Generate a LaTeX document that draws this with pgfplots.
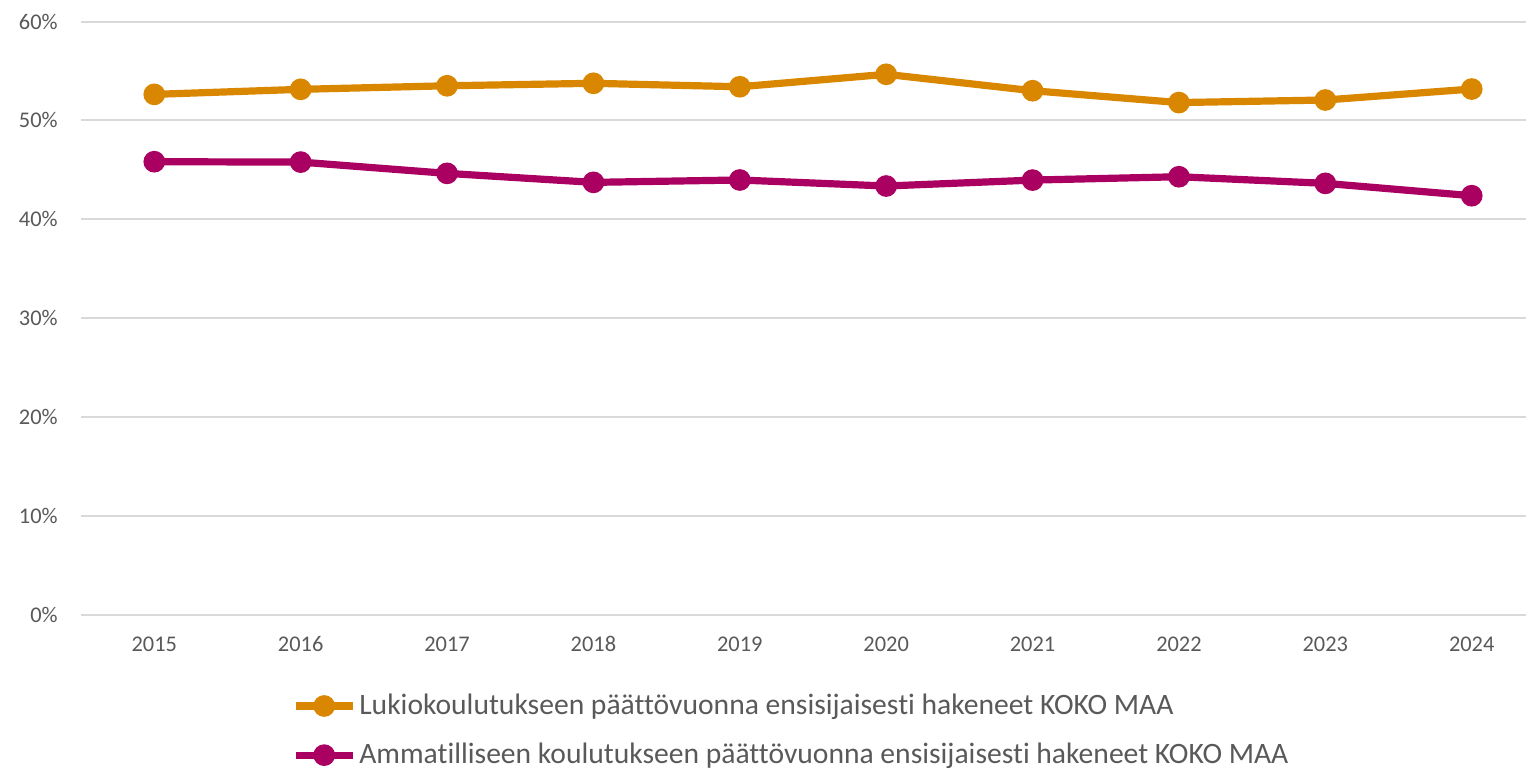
\documentclass[border=0pt]{standalone}
\usepackage{fontspec}
\setmainfont{Carlito}[Ligatures={NoCommon}]
\usepackage{pgfplots}
\pgfplotsset{compat=1.18}
\definecolor{orangeS}{HTML}{D98700}
\definecolor{magS}{HTML}{AA0061}
\definecolor{gridg}{HTML}{D9D9D9}
\definecolor{txt}{HTML}{595959}
\begin{document}
\begin{tikzpicture}
\begin{axis}[name=ax, scale only axis, width=731.9pt, height=296.6pt,
  xmin=2014.5, xmax=2024.5, ymin=0, ymax=60,
  xtick={2015,2016,2017,2018,2019,2020,2021,2022,2023,2024},
  xticklabels={2015,2016,2017,2018,2019,2020,2021,2022,2023,2024},
  ytick={0,10,20,30,40,50,60},
  yticklabels={0\%,10\%,20\%,30\%,40\%,50\%,60\%},
  ymajorgrids, grid style={gridg, line width=1pt},
  axis line style={draw=none},
  major tick length=0pt, tick style={draw=none},
  ticklabel style={font=\fontsize{11.2}{13}\selectfont, text=txt},
  yticklabel style={xshift=-8.2pt},
  xticklabel style={yshift=-8pt, text height=7.1pt, text depth=0pt},
  /pgf/number format/assume math mode=true,
  clip=false,
  legend cell align=left,
  legend image code/.code={\draw[mark repeat=2,mark phase=2] plot coordinates {(0pt,0pt)(14.25pt,0pt)(28.5pt,0pt)};},
  legend style={at={(axis description cs:0,0)}, anchor=north west, draw=none, fill=none,
    font=\fontsize{14.8}{18}\selectfont, text=txt, row sep=12.8pt, inner sep=0pt,
    nodes={inner sep=0pt},
    /tikz/every odd column/.append style={column sep=1.5pt},
    xshift=105.3pt, yshift=-39.55pt},
]
\addplot[color=orangeS, line width=3.6pt, mark=*, mark size=3.6pt, mark options={solid}] coordinates {
(2015,52.63) (2016,53.14) (2017,53.5) (2018,53.75) (2019,53.4) (2020,54.66) (2021,53.0) (2022,51.8) (2023,52.06) (2024,53.17)};
\addlegendentry{Lukiokoulutukseen päättövuonna ensisijaisesti hakeneet KOKO MAA}
\addplot[color=magS, line width=3.6pt, mark=*, mark size=3.6pt, mark options={solid}] coordinates {
(2015,45.82) (2016,45.78) (2017,44.64) (2018,43.73) (2019,43.97) (2020,43.36) (2021,43.96) (2022,44.3) (2023,43.63) (2024,42.38)};
\addlegendentry{Ammatilliseen koulutukseen päättövuonna ensisijaisesti hakeneet KOKO MAA}
\end{axis}
\pgfresetboundingbox
\path ([xshift=-40.55pt,yshift=-76.15pt]ax.south west) rectangle ([xshift=722.45pt,yshift=307.35pt]ax.south west);
\end{tikzpicture}
\end{document}
